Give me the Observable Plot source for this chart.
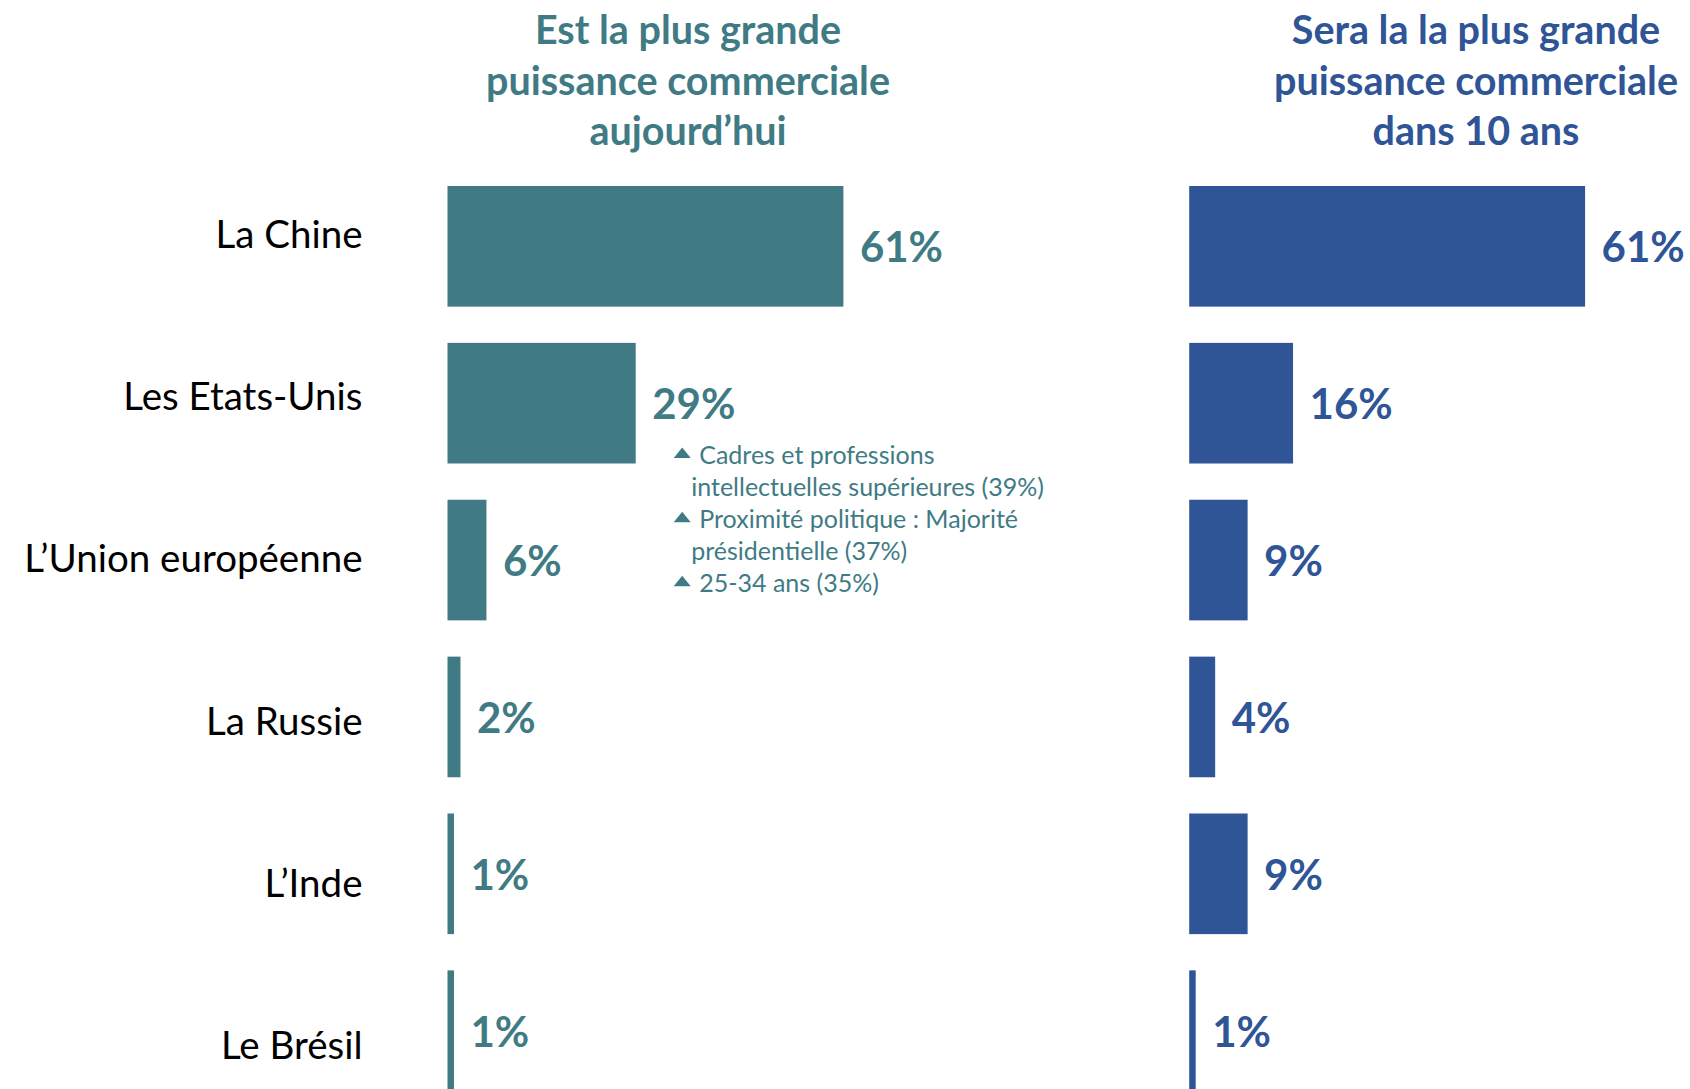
<!DOCTYPE html>
<html>
<head>
<meta charset="utf-8">
<script src="https://cdn.jsdelivr.net/npm/d3@7"></script>
<script src="https://cdn.jsdelivr.net/npm/@observablehq/plot@0.6"></script>
<style>
  html, body { margin: 0; padding: 0; background: #fff; }
  #wrap { position: relative; width: 1690px; height: 1089px; overflow: hidden; background: #fff; font-family: Lato, sans-serif; }
  #header { position: relative; width: 1690px; height: 160px; }
  .title { position: absolute; top: 4px; width: 540px; text-align: center; white-space: pre-line;
           font-family: Lato, sans-serif; font-weight: bold; font-size: 39.5px; line-height: 50.7px; }
  #chart svg { display: block; }
  .overlay { position: absolute; left: 0; top: 160px; pointer-events: none; }
</style>
</head>
<body>
<div id="wrap">
  <div id="header"></div>
  <div id="chart"></div>
  <div id="labels" class="overlay"></div>
  <div id="annotation" class="overlay"></div>
</div>
<script>
// ---- data ----
const countries = ["La Chine", "Les Etats-Unis", "L’Union européenne", "La Russie", "L’Inde", "Le Brésil"];
const todayValues = [61, 29, 6, 2, 1, 1];
const futureValues = [61, 16, 9, 4, 9, 1];
const seriesTitles = [
  "Est la plus grande\npuissance commerciale\naujourd’hui",
  "Sera la la plus grande\npuissance commerciale\ndans 10 ans"
];
const annotationCountry = "Les Etats-Unis";
const annotationLines = [
  "Cadres et professions",
  "intellectuelles supérieures (39%)",
  "Proximité politique : Majorité",
  "présidentielle (37%)",
  "25-34 ans (35%)"
];
const annotationBulletFlags = [true, false, true, false, true];

// ---- styles ----
const teal = "#407B85";
const blue = "#2F5597";
const pxPerPoint = 6.49;
const leftOrigin = 447.5;
const rightShift = 741.7;
const xScale = {domain: [0, 100], range: [leftOrigin, leftOrigin + 100 * pxPerPoint], axis: null};

const today = countries.map((c, i) => ({country: c, value: todayValues[i]}));
const future = countries.map((c, i) => ({country: c, value: futureValues[i]}));
const annotValue = todayValues[countries.indexOf(annotationCountry)];
const annot = annotationLines.map((t, i) => ({line: i, text: t, bullet: annotationBulletFlags[i], value: annotValue}));

// titles
const header = document.getElementById("header");
[[seriesTitles[0], teal, 688], [seriesTitles[1], blue, 1476]].forEach(([t, c, cx]) => {
  const div = document.createElement("div");
  div.className = "title";
  div.style.color = c;
  div.style.left = (cx - 270) + "px";
  div.textContent = t;
  header.appendChild(div);
});

const chart = Plot.plot({
  width: 1690,
  height: 929,
  margin: 0,
  style: {fontFamily: "Lato, sans-serif", background: "white", overflow: "visible"},
  x: xScale,
  y: {domain: countries, range: [26, 931], paddingInner: 0.231, paddingOuter: 0, round: false, axis: null},
  marks: [
    Plot.barX(today, {x1: 0, x2: "value", y: "country", fill: teal}),
    Plot.barX(future, {x1: 0, x2: "value", y: "country", fill: blue, dx: rightShift}),
    Plot.text(today, {x: "value", y: "country", text: d => d.value + "%", textAnchor: "start",
      dx: 16, dy: 2, fontSize: 42, fontWeight: "bold", fill: teal}),
    Plot.text(future, {x: "value", y: "country", text: d => d.value + "%", textAnchor: "start",
      dx: rightShift + 16, dy: 2, fontSize: 42, fontWeight: "bold", fill: blue})
  ]
});
document.getElementById("chart").appendChild(chart);

// category labels
const labels = Plot.plot({
  width: 447,
  height: 929,
  margin: 0,
  marginRight: 85,
  style: {fontFamily: "Lato, sans-serif", background: "transparent"},
  x: {axis: null},
  y: {type: "point", domain: countries, range: [75, 886.5], padding: 0, round: false, axis: null},
  marks: [
    Plot.text(countries, {y: d => d, text: d => d, frameAnchor: "right", textAnchor: "end",
      fontSize: 38.5, fill: "#000"})
  ]
});
document.getElementById("labels").appendChild(labels);

// annotation next to the Etats-Unis bar
const flatTriangle = {
  draw(context, size) {
    const r = Math.sqrt(size / Math.PI);
    const w = 3.1 * r, h = 1.9 * r;
    context.moveTo(-w / 2, h / 2);
    context.lineTo(w / 2, h / 2);
    context.lineTo(0, -h / 2);
    context.closePath();
  }
};
const annotation = Plot.plot({
  width: 1690,
  height: 929,
  margin: 0,
  style: {fontFamily: "Lato, sans-serif", background: "transparent", overflow: "visible"},
  x: xScale,
  y: {type: "point", domain: annot.map(d => d.line), range: [295, 423.3], padding: 0, round: false, axis: null},
  marks: [
    Plot.dot(annot.filter(d => d.bullet), {x: "value", y: "line", symbol: flatTriangle, r: 5.5,
      fill: teal, stroke: null, dx: 46, dy: -2.7}),
    Plot.text(annot.filter(d => d.bullet), {x: "value", y: "line", text: "text", textAnchor: "start",
      fontSize: 25, dx: 63, fill: teal}),
    Plot.text(annot.filter(d => !d.bullet), {x: "value", y: "line", text: "text", textAnchor: "start",
      fontSize: 25, dx: 55, fill: teal})
  ]
});
document.getElementById("annotation").appendChild(annotation);
</script>
</body>
</html>
